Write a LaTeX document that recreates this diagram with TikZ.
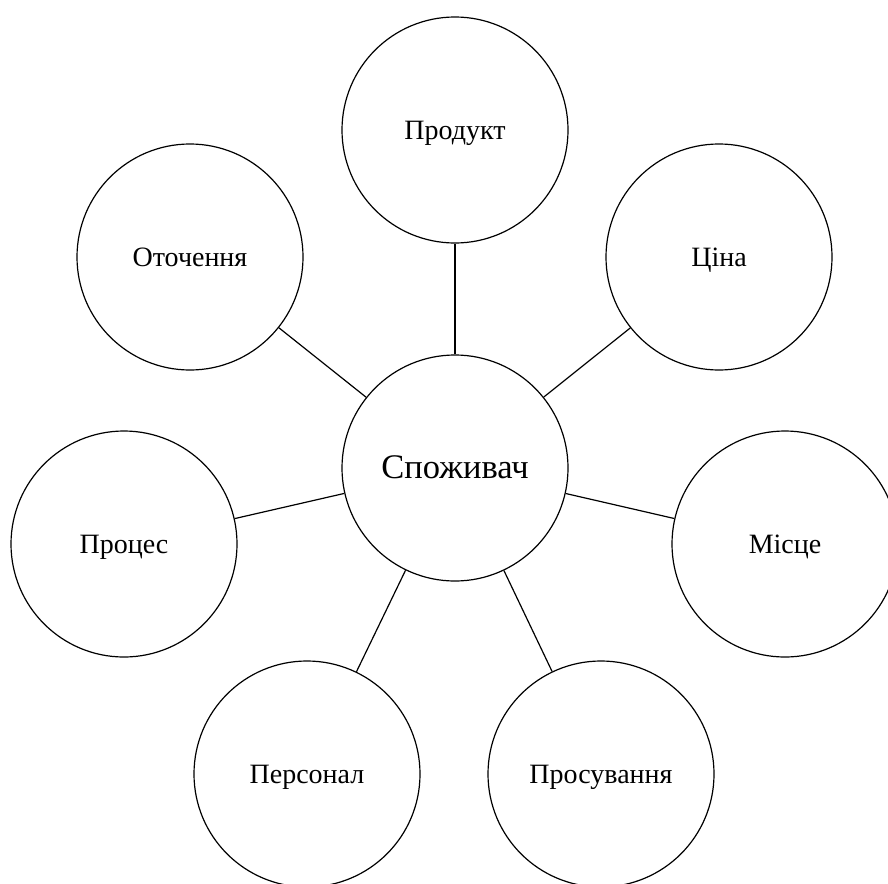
\documentclass[tikz,border=0pt]{standalone}
\usepackage{fontspec}
\setmainfont{Liberation Serif}
\begin{document}
\begin{tikzpicture}[x=1pt,y=-1pt,
  bubble/.style={circle,draw,line width=1.2pt,minimum size=226pt,inner sep=0pt,
    text height=18pt,text depth=0pt,
    font=\fontsize{28}{30}\selectfont},
  hub/.style={bubble,text height=20pt,font=\fontsize{34.5}{38}\selectfont},
  spoke/.style={line width=1.2pt}]
\useasboundingbox (0,0) rectangle (888,883);
\clip (0,0) rectangle (888,883);

% central element
\node[hub] (c) at (455,468) {Споживач};

% surrounding elements
\node[bubble] (prod)  at (455,130) {Продукт};
\node[bubble] (price) at (719,257) {Ціна};
\node[bubble] (env)   at (190,257) {Оточення};
\node[bubble] (proc)  at (124,544) {Процес};
\node[bubble] (place) at (785,544) {Місце};
\node[bubble] (staff) at (307,774) {Персонал};
\node[bubble] (promo) at (601,774) {Просування};

% spokes
\foreach \n in {prod,price,env,proc,place,staff,promo}
  \draw[spoke] (c) -- (\n);
\end{tikzpicture}
\end{document}
